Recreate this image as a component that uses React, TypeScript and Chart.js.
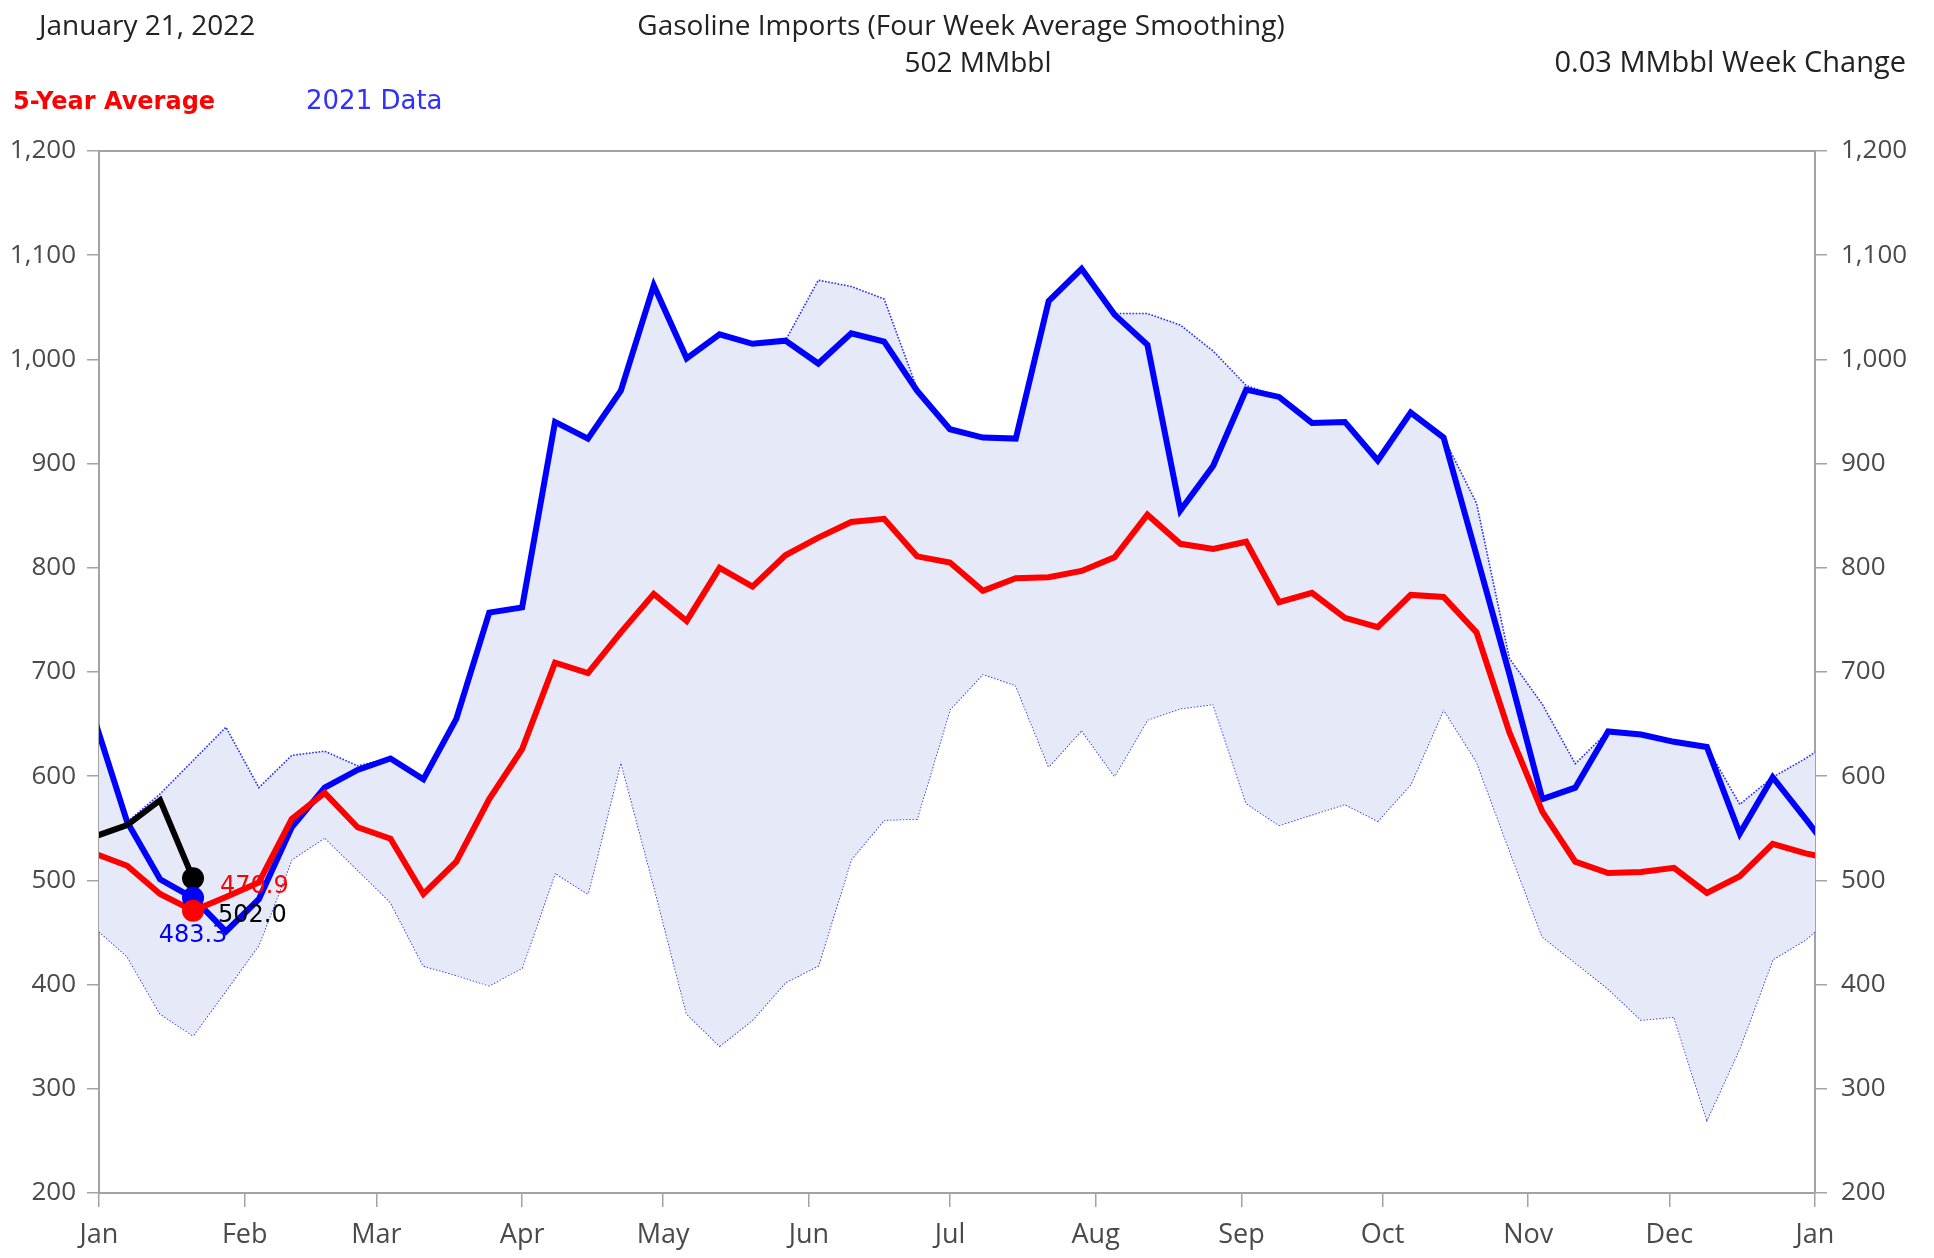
import React, { useEffect, useRef } from "react";
import { Chart, registerables } from "chart.js";

Chart.register(...registerables);

// ---------- text ----------
const dateText = "January 21, 2022";
const titleText = "Gasoline Imports (Four Week Average Smoothing)";
const levelUnit = "MMbbl";
const changeText = "0.03 MMbbl Week Change";
const legendAvg = "5-Year Average";
const legendYear = "2021 Data";

// ---------- x axis ----------
const monthLabels = ["Jan", "Feb", "Mar", "Apr", "May", "Jun", "Jul", "Aug", "Sep", "Oct", "Nov", "Dec", "Jan"];
const monthStartDays = [0, 31, 59, 90, 120, 151, 181, 212, 243, 273, 304, 334, 365];
// weekly observations: first week ends Dec 31 (day -1), then every 7 days
const firstWeekDay = -1;
const daysPerWeek = 7;

// ---------- y axis ----------
const yMin = 200;
const yMax = 1200;
const yStep = 100;

// ---------- series (thousand b/d, 4-week avg) ----------
const data2021 = [
  655, 556, 501, 483.3, 451, 482, 551, 589, 606, 617,
  597, 655, 757, 762, 940, 924, 970, 1071, 1001, 1024,
  1015, 1018, 996, 1025, 1017, 970, 933, 925, 924, 1056,
  1087, 1043, 1014, 855, 898, 971, 964, 939, 940, 903,
  949, 925, 812, 698, 578, 589, 643, 640, 633, 628,
  545, 599, 559, 518,
];
const avg5Year = [
  526, 514, 487, 470.9, 484, 498, 559, 584, 551, 540,
  487, 518, 578, 626, 709, 699, 738, 775, 749, 800,
  782, 812, 829, 844, 847, 811, 805, 778, 790, 791,
  797, 810, 851, 823, 818, 825, 767, 776, 752, 743,
  774, 772, 738, 642, 566, 518, 507, 508, 512, 488,
  504, 535, 526, 519,
];
const rangeMax = [
  655, 556, 583, 615, 647, 589, 620, 624, 610, 617,
  597, 655, 757, 762, 940, 924, 970, 1071, 1001, 1024,
  1015, 1018, 1076, 1070, 1058, 972, 933, 925, 924, 1056,
  1087, 1044, 1044, 1033, 1008, 975, 964, 939, 940, 903,
  949, 925, 862, 713, 669, 612, 643, 640, 633, 628,
  573, 599, 617, 638,
];
const rangeMin = [
  455, 427, 372, 351, 394, 438, 520, 541, 510, 479,
  418, 409, 399, 416, 507, 487, 614, 495, 372, 341,
  366, 402, 418, 520, 558, 559, 664, 698, 687, 609,
  644, 600, 654, 665, 669, 574, 553, 563, 573, 557,
  592, 664, 614, 529, 446, 421, 396, 366, 369, 270,
  339, 424, 443, 471,
];
const data2022 = [542, 553, 577, 502.0];

// ---------- styles ----------
const axisColor = "#a3a3a3";
const tickColor = "#4a4a4a";
const bandFill = "#e6e9f7";
const bandLine = "rgba(20,20,255,0.9)";
const blue = "#0000ff";
const red = "#ff0000";
const lineW = 6;

const toPoints = (arr: number[]) =>
  arr.map((v, i) => ({ x: firstWeekDay + i * daysPerWeek, y: v }));

const lastIdx = data2022.length - 1;
const lastPoint = (arr: number[]) => [{ x: firstWeekDay + lastIdx * daysPerWeek, y: arr[lastIdx] }];

const headerPlugin = {
  id: "headerAndLabels",
  afterDraw(chart: any) {
    const ctx = chart.ctx as CanvasRenderingContext2D;
    const a = chart.chartArea;
    const xs = chart.scales.x;
    const ys = chart.scales.y;
    ctx.save();
    // top frame line
    ctx.strokeStyle = axisColor;
    ctx.lineWidth = 2;
    ctx.beginPath();
    ctx.moveTo(a.left, a.top);
    ctx.lineTo(a.right, a.top);
    ctx.stroke();

    ctx.textBaseline = "alphabetic";
    ctx.fillStyle = "#222222";
    ctx.font = '28px "Open Sans"';
    ctx.textAlign = "left";
    ctx.fillText(dateText, 39, 35);
    ctx.textAlign = "center";
    ctx.fillText(titleText, 961, 35);
    ctx.fillText(`${Math.round(data2022[lastIdx])} ${levelUnit}`, 978, 72);
    ctx.textAlign = "right";
    ctx.font = '29px "Open Sans"';
    ctx.fillText(changeText, 1906, 72);

    ctx.textAlign = "left";
    ctx.font = 'bold 24px "DejaVu Sans"';
    ctx.fillStyle = red;
    ctx.fillText(legendAvg, 13, 109);
    ctx.font = '26px "DejaVu Sans"';
    ctx.fillStyle = "#3030ff";
    ctx.fillText(legendYear, 306, 109);

    // value labels of latest week
    const px = xs.getPixelForValue(firstWeekDay + lastIdx * daysPerWeek);
    ctx.font = '24px "DejaVu Sans"';
    ctx.fillStyle = red;
    ctx.textAlign = "left";
    ctx.fillText(avg5Year[lastIdx].toFixed(1), px + 27, ys.getPixelForValue(avg5Year[lastIdx]) - 18);
    ctx.fillStyle = "#000000";
    ctx.fillText(data2022[lastIdx].toFixed(1), px + 25, ys.getPixelForValue(data2022[lastIdx]) + 44);
    ctx.fillStyle = blue;
    ctx.textAlign = "center";
    ctx.fillText(data2021[lastIdx].toFixed(1), px, ys.getPixelForValue(data2021[lastIdx]) + 44);
    ctx.restore();
  },
};

export default function App() {
  const ref = useRef<HTMLCanvasElement | null>(null);
  useEffect(() => {
    const canvas = ref.current;
    if (!canvas) return;
    const yAxisCommon = {
      type: "linear" as const,
      min: yMin,
      max: yMax,
      border: { display: true, color: axisColor, width: 2 },
      grid: { display: true, drawOnChartArea: false, drawTicks: true, tickLength: 12, color: axisColor, lineWidth: 1.5 },
      ticks: {
        stepSize: yStep,
        color: tickColor,
        font: { family: '"Open Sans"', size: 26 },
        callback: (v: any) => Number(v).toLocaleString("en-US"),
      },
    };
    const chart = new Chart(canvas, {
      type: "line",
      data: {
        datasets: [
          {
            label: "max",
            data: toPoints(rangeMax),
            borderColor: bandLine,
            borderWidth: 1.6,
            borderDash: [1.6, 1.6],
            pointRadius: 0,
            fill: "+1",
            backgroundColor: bandFill,
            order: 6,
          },
          {
            label: "min",
            data: toPoints(rangeMin),
            borderColor: bandLine,
            borderWidth: 1.6,
            borderDash: [1.6, 1.6],
            pointRadius: 0,
            fill: false,
            order: 7,
          },
          { label: "2021", data: toPoints(data2021), borderColor: blue, borderWidth: lineW, pointRadius: 0, fill: false, order: 5 },
          { label: "avg", data: toPoints(avg5Year), borderColor: red, borderWidth: lineW, pointRadius: 0, fill: false, order: 4 },
          { label: "2022", data: toPoints(data2022), borderColor: "#000000", borderWidth: lineW, pointRadius: 0, fill: false, order: 3 },
          { label: "2022pt", data: lastPoint(data2022), showLine: false, pointRadius: 11, pointBackgroundColor: "#000000", pointBorderWidth: 0, order: 2 },
          { label: "2021pt", data: lastPoint(data2021), showLine: false, pointRadius: 11, pointBackgroundColor: blue, pointBorderWidth: 0, order: 1 },
          { label: "avgpt", data: lastPoint(avg5Year), showLine: false, pointRadius: 11, pointBackgroundColor: red, pointBorderWidth: 0, order: 0 },
        ],
      },
      options: {
        responsive: false,
        animation: false,
        devicePixelRatio: 1,
        layout: { padding: { top: 151, left: 0, right: 0, bottom: 0 } },
        elements: { line: { tension: 0, borderJoinStyle: "miter" } },
        plugins: { legend: { display: false }, tooltip: { enabled: false }, title: { display: false } },
        scales: {
          x: {
            type: "linear",
            min: 0,
            max: 365,
            border: { display: true, color: axisColor, width: 2 },
            grid: { display: true, drawOnChartArea: false, drawTicks: true, tickLength: 14, color: axisColor, lineWidth: 1.5 },
            afterBuildTicks: (scale: any) => {
              scale.ticks = monthStartDays.map((v) => ({ value: v }));
            },
            afterFit: (scale: any) => {
              scale.height = 65;
            },
            ticks: {
              autoSkip: false,
              maxRotation: 0,
              padding: 12,
              color: tickColor,
              font: { family: '"Open Sans"', size: 27 },
              callback: (_v: any, i: number) => monthLabels[i],
            },
          },
          y: {
            ...yAxisCommon,
            position: "left",
            afterFit: (scale: any) => {
              scale.width = 99;
            },
            ticks: { ...yAxisCommon.ticks, padding: 11 },
          },
          y2: {
            ...yAxisCommon,
            position: "right",
            afterFit: (scale: any) => {
              scale.width = 119;
            },
            ticks: { ...yAxisCommon.ticks, padding: 14 },
          },
        },
      },
      plugins: [headerPlugin],
    } as any);
    return () => chart.destroy();
  }, []);
  return (
    <div style={{ position: "absolute", left: 0, top: 0, width: 1934, height: 1258, background: "#ffffff" }}>
      <canvas ref={ref} width={1934} height={1258} style={{ display: "block", width: 1934, height: 1258 }} />
    </div>
  );
}
